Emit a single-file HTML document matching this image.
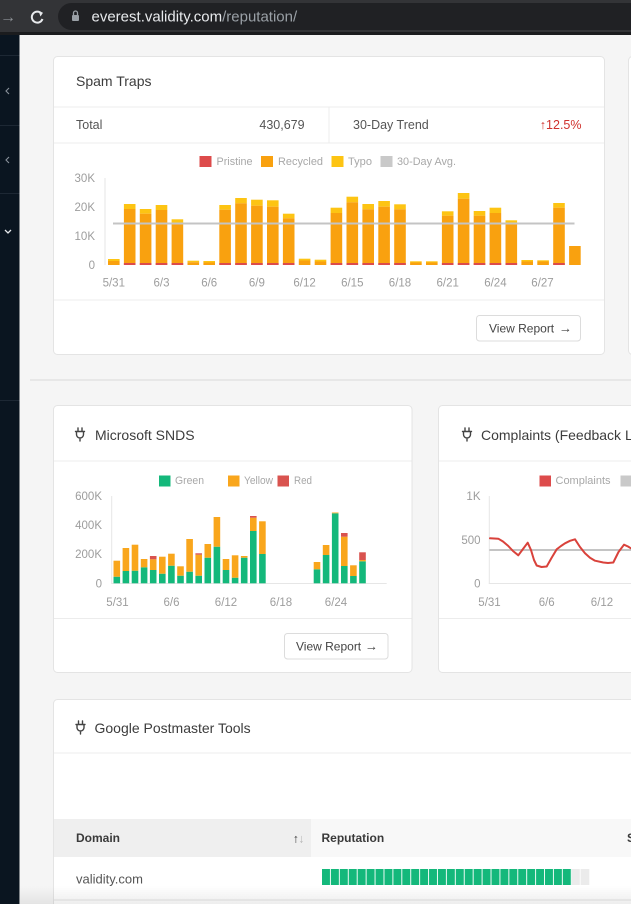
<!DOCTYPE html>
<html><head><meta charset="utf-8"><style>
html,body{margin:0;padding:0;background:#f5f5f5;}
svg{display:block;font-family:"Liberation Sans",Arial,sans-serif;}
</style></head><body>
<svg width="631" height="904" viewBox="0 0 631 904" xmlns="http://www.w3.org/2000/svg">
<defs>
<pattern id="seg" x="322" y="0" width="8.92" height="904" patternUnits="userSpaceOnUse">
<rect x="0" y="0" width="8.0" height="904" fill="#14b87b"/>
</pattern>
<linearGradient id="fade" x1="0" y1="0" x2="0" y2="1">
<stop offset="0" stop-color="#000" stop-opacity="0"/>
<stop offset="1" stop-color="#000" stop-opacity="0.07"/>
</linearGradient>
</defs>
<rect x="0" y="0" width="631" height="904" fill="#f5f5f5"/>
<rect x="0" y="0" width="631" height="33" fill="#333437"/>
<rect x="0" y="32" width="631" height="3" fill="#1b1c1e"/>
<rect x="58" y="3" width="600" height="27" rx="13.5" fill="#202124"/>
<text x="0" y="22" font-size="16" fill="#8e9296">→</text>
<path d="M41.5,13.5 A5.5,5.5 0 1 0 42.5,19" fill="none" stroke="#e8eaed" stroke-width="2"/>
<path d="M38.5,11 L43,12.8 L40.5,16.5 Z" fill="#e8eaed"/>
<rect x="72" y="15" width="7" height="6" rx="1" fill="#9aa0a6"/>
<path d="M73.5,15 V13 A2,2 0 0 1 77.5,13 V15" fill="none" stroke="#9aa0a6" stroke-width="1.3"/>
<text x="91.5" y="21.5" font-size="15" fill="#e8eaed">everest.validity.com<tspan fill="#9aa0a6">/reputation/</tspan></text>
<rect x="0" y="35" width="19.5" height="869" fill="#0a1520"/>
<rect x="0" y="55" width="19.5" height="1" fill="#1d2834"/>
<rect x="0" y="125" width="19.5" height="1" fill="#1d2834"/>
<rect x="0" y="193" width="19.5" height="1" fill="#1d2834"/>
<rect x="0" y="400" width="19.5" height="1" fill="#1d2834"/>
<path d="M9,88 L6,91 L9,94" fill="none" stroke="#8a929b" stroke-width="1.1"/>
<path d="M9,157 L6,160 L9,163" fill="none" stroke="#8a929b" stroke-width="1.1"/>
<path d="M5,230 L8,233 L11,230" fill="none" stroke="#e6e9ec" stroke-width="1.3"/>

<rect x="30" y="379" width="601" height="2" fill="#e7e7e7"/>

<rect x="628.5" y="56.5" width="40" height="298" rx="4" fill="#fff" stroke="#e4e4e4"/>

<!-- SPAM TRAPS CARD -->
<rect x="53.5" y="56.5" width="551" height="298" rx="4" fill="#fff" stroke="#e4e4e4"/>
<text x="76" y="81" font-size="14" fill="#3c3c3c" dominant-baseline="central">Spam Traps</text>
<rect x="54" y="106.5" width="550" height="1" fill="#ececec"/>
<rect x="54" y="142.5" width="550" height="1" fill="#ececec"/>
<rect x="328.5" y="107" width="1" height="36" fill="#ececec"/>
<text x="76" y="125" font-size="12.5" fill="#555" dominant-baseline="central">Total</text>
<text x="304.6" y="125" font-size="12.5" fill="#555" text-anchor="end" dominant-baseline="central">430,679</text>
<text x="353" y="125" font-size="12.5" fill="#555" dominant-baseline="central">30-Day Trend</text>
<text x="546" y="125" font-size="12.5" fill="#d0312d" text-anchor="end" dominant-baseline="central" font-weight="bold">↑</text>
<text x="581.5" y="125" font-size="12.5" fill="#d0312d" text-anchor="end" dominant-baseline="central">12.5%</text>
<g font-size="11" fill="#a8a8a8">
<rect x="199.5" y="156" width="12" height="11" fill="#dd4b4b"/>
<text x="216.5" y="162" dominant-baseline="central" textLength="36" lengthAdjust="spacingAndGlyphs">Pristine</text>
<rect x="261" y="156" width="12" height="11" fill="#f9a10f"/>
<text x="278" y="162" dominant-baseline="central" textLength="45" lengthAdjust="spacingAndGlyphs">Recycled</text>
<rect x="331.5" y="156" width="12" height="11" fill="#fdc413"/>
<text x="348" y="162" dominant-baseline="central" textLength="24" lengthAdjust="spacingAndGlyphs">Typo</text>
<rect x="380.5" y="156" width="12" height="11" fill="#c9c9c9"/>
<text x="397" y="162" dominant-baseline="central" textLength="59" lengthAdjust="spacingAndGlyphs">30-Day Avg.</text>
</g>
<rect x="104.5" y="178" width="1" height="87" fill="#e6e6e6"/>
<g font-size="11.5" fill="#9d9d9d" text-anchor="end">
<text x="95" y="182">30K</text>
<text x="95" y="211">20K</text>
<text x="95" y="240">10K</text>
<text x="95" y="269">0</text>
</g>
<g font-size="11.5" fill="#9d9d9d" text-anchor="middle">
<text x="113.8" y="286.5">5/31</text>
<text x="161.5" y="286.5">6/3</text>
<text x="209.2" y="286.5">6/6</text>
<text x="256.9" y="286.5">6/9</text>
<text x="304.6" y="286.5">6/12</text>
<text x="352.3" y="286.5">6/15</text>
<text x="400" y="286.5">6/18</text>
<text x="447.7" y="286.5">6/21</text>
<text x="495.4" y="286.5">6/24</text>
<text x="542.5" y="286.5">6/27</text>
</g>
<g>
<g fill="#fdc413">
<rect x="123.9" y="204" width="11.6" height="5"/>
<rect x="139.8" y="209" width="11.6" height="4.7"/>
<rect x="155.7" y="205" width="11.6" height="5"/>
<rect x="171.6" y="219.3" width="11.6" height="4"/>
<rect x="219.3" y="205" width="11.6" height="4.7"/>
<rect x="235.2" y="198" width="11.6" height="5.3"/>
<rect x="251.1" y="199.7" width="11.6" height="6"/>
<rect x="267.0" y="200.3" width="11.6" height="6.4"/>
<rect x="282.9" y="213.7" width="11.6" height="4.6"/>
<rect x="330.6" y="207.7" width="11.6" height="5.3"/>
<rect x="346.5" y="196.7" width="11.6" height="5.6"/>
<rect x="362.4" y="204" width="11.6" height="5.3"/>
<rect x="378.3" y="201" width="11.6" height="5.7"/>
<rect x="394.2" y="204.3" width="11.6" height="5"/>
<rect x="441.9" y="211.3" width="11.6" height="4.4"/>
<rect x="457.8" y="193" width="11.6" height="5.7"/>
<rect x="473.7" y="211" width="11.6" height="4.7"/>
<rect x="489.6" y="207.7" width="11.6" height="5.3"/>
<rect x="505.5" y="220.3" width="11.6" height="3.7"/>
<rect x="553.2" y="203" width="11.6" height="4.7"/>
<rect x="108.0" y="259" width="11.6" height="2"/>
<rect x="187.5" y="260.7" width="11.6" height="1.5"/>
<rect x="203.4" y="261" width="11.6" height="1.5"/>
<rect x="298.8" y="258.7" width="11.6" height="1.8"/>
<rect x="314.7" y="259.7" width="11.6" height="1.8"/>
<rect x="410.1" y="261.3" width="11.6" height="1.2"/>
<rect x="426.0" y="261.3" width="11.6" height="1.2"/>
<rect x="521.4" y="260" width="11.6" height="1.5"/>
<rect x="537.3" y="260.3" width="11.6" height="1.2"/>
</g>
<g fill="#f9a10f">
<rect x="123.9" y="209" width="11.6" height="56"/>
<rect x="139.8" y="213.7" width="11.6" height="51.3"/>
<rect x="155.7" y="210" width="11.6" height="55"/>
<rect x="171.6" y="223.3" width="11.6" height="41.7"/>
<rect x="219.3" y="209.7" width="11.6" height="55.3"/>
<rect x="235.2" y="203.3" width="11.6" height="61.7"/>
<rect x="251.1" y="205.7" width="11.6" height="59.3"/>
<rect x="267.0" y="206.7" width="11.6" height="58.3"/>
<rect x="282.9" y="218.3" width="11.6" height="46.7"/>
<rect x="330.6" y="213" width="11.6" height="52"/>
<rect x="346.5" y="202.3" width="11.6" height="62.7"/>
<rect x="362.4" y="209.3" width="11.6" height="55.7"/>
<rect x="378.3" y="206.7" width="11.6" height="58.3"/>
<rect x="394.2" y="209.3" width="11.6" height="55.7"/>
<rect x="441.9" y="215.7" width="11.6" height="49.3"/>
<rect x="457.8" y="198.7" width="11.6" height="66.3"/>
<rect x="473.7" y="215.7" width="11.6" height="49.3"/>
<rect x="489.6" y="213" width="11.6" height="52"/>
<rect x="505.5" y="224" width="11.6" height="41"/>
<rect x="553.2" y="207.7" width="11.6" height="57.3"/>
<rect x="569.1" y="246" width="11.6" height="19"/>
<rect x="108.0" y="261" width="11.6" height="4"/>
<rect x="187.5" y="262.2" width="11.6" height="2.8"/>
<rect x="203.4" y="262.5" width="11.6" height="2.5"/>
<rect x="298.8" y="260.5" width="11.6" height="4.5"/>
<rect x="314.7" y="261.5" width="11.6" height="3.5"/>
<rect x="410.1" y="262.5" width="11.6" height="2.5"/>
<rect x="426.0" y="262.5" width="11.6" height="2.5"/>
<rect x="521.4" y="261.5" width="11.6" height="3.5"/>
<rect x="537.3" y="261.5" width="11.6" height="3.5"/>
</g>
<g fill="#dd4b4b">
<rect x="123.9" y="263" width="11.6" height="2"/>
<rect x="139.8" y="263" width="11.6" height="2"/>
<rect x="155.7" y="263" width="11.6" height="2"/>
<rect x="171.6" y="263" width="11.6" height="2"/>
<rect x="219.3" y="263" width="11.6" height="2"/>
<rect x="235.2" y="263" width="11.6" height="2"/>
<rect x="251.1" y="263" width="11.6" height="2"/>
<rect x="267.0" y="263" width="11.6" height="2"/>
<rect x="282.9" y="263" width="11.6" height="2"/>
<rect x="330.6" y="263" width="11.6" height="2"/>
<rect x="346.5" y="263" width="11.6" height="2"/>
<rect x="362.4" y="263" width="11.6" height="2"/>
<rect x="378.3" y="263" width="11.6" height="2"/>
<rect x="394.2" y="263" width="11.6" height="2"/>
<rect x="441.9" y="263" width="11.6" height="2"/>
<rect x="457.8" y="263" width="11.6" height="2"/>
<rect x="473.7" y="263" width="11.6" height="2"/>
<rect x="489.6" y="263" width="11.6" height="2"/>
<rect x="505.5" y="263" width="11.6" height="2"/>
<rect x="553.2" y="263" width="11.6" height="2"/>
</g>
</g>
<rect x="113" y="222.5" width="461.5" height="2" fill="#c4c4c4"/>
<rect x="54" y="299.5" width="550" height="1" fill="#ececec"/>
<rect x="476.5" y="315.5" width="104" height="25.5" rx="3" fill="#fff" stroke="#dcdcdc"/>
<text x="489" y="328.5" font-size="12" fill="#444" dominant-baseline="central">View Report</text>
<text x="559" y="328" font-size="13" fill="#444" dominant-baseline="central">→</text>

<!-- SNDS CARD -->
<rect x="53.5" y="405.5" width="358.5" height="267" rx="4" fill="#fff" stroke="#e4e4e4"/>
<g fill="none" stroke="#444" stroke-width="1.4" stroke-linecap="round">
<path d="M78,428 V431 M82,428 V431 M75.5,431.5 H84.5 M76.5,431.5 V434.5 A3.5,3.5 0 0 0 83.5,434.5 V431.5 M80,438 V441"/>
</g>
<text x="95" y="435" font-size="14" fill="#3c3c3c" dominant-baseline="central">Microsoft SNDS</text>
<rect x="54" y="460.5" width="357.5" height="1" fill="#ececec"/>
<g font-size="11" fill="#a8a8a8">
<rect x="159" y="475.5" width="11.5" height="11" fill="#14b87b"/>
<text x="175" y="481" dominant-baseline="central" textLength="29" lengthAdjust="spacingAndGlyphs">Green</text>
<rect x="228" y="475.5" width="11.5" height="11" fill="#f9a61c"/>
<text x="244" y="481" dominant-baseline="central" textLength="29" lengthAdjust="spacingAndGlyphs">Yellow</text>
<rect x="277.5" y="475.5" width="11.5" height="11" fill="#d9534f"/>
<text x="294" y="481" dominant-baseline="central" textLength="18" lengthAdjust="spacingAndGlyphs">Red</text>
</g>
<rect x="111.2" y="496" width="1" height="87.5" fill="#e6e6e6"/>
<rect x="111.2" y="583" width="275.5" height="1" fill="#e6e6e6"/>
<g font-size="11.5" fill="#9d9d9d" text-anchor="end">
<text x="102" y="500">600K</text>
<text x="102" y="529">400K</text>
<text x="102" y="558">200K</text>
<text x="102" y="587.5">0</text>
</g>
<g font-size="11.5" fill="#9d9d9d" text-anchor="middle">
<text x="117.5" y="606">5/31</text>
<text x="171.5" y="606">6/6</text>
<text x="226" y="606">6/12</text>
<text x="281" y="606">6/18</text>
<text x="336" y="606">6/24</text>
</g>
<g fill="#14b87b">
<rect x="113.5" y="576.7" width="6.6" height="6.6"/>
<rect x="122.6" y="571" width="6.6" height="12.3"/>
<rect x="131.7" y="570.7" width="6.6" height="12.6"/>
<rect x="140.8" y="567.3" width="6.6" height="16"/>
<rect x="149.9" y="570" width="6.6" height="13.3"/>
<rect x="159.0" y="573.7" width="6.6" height="9.6"/>
<rect x="168.1" y="565.7" width="6.6" height="17.6"/>
<rect x="177.2" y="575.7" width="6.6" height="7.6"/>
<rect x="186.3" y="571.7" width="6.6" height="11.6"/>
<rect x="195.4" y="575.7" width="6.6" height="7.6"/>
<rect x="204.5" y="557.7" width="6.6" height="25.6"/>
<rect x="213.6" y="546.7" width="6.6" height="36.6"/>
<rect x="222.7" y="570" width="6.6" height="13.3"/>
<rect x="231.8" y="577.7" width="6.6" height="5.6"/>
<rect x="240.9" y="557.7" width="6.6" height="25.6"/>
<rect x="250.0" y="531" width="6.6" height="52.3"/>
<rect x="259.1" y="554" width="6.6" height="29.3"/>
<rect x="313.7" y="569.3" width="6.6" height="14"/>
<rect x="322.8" y="555" width="6.6" height="28.3"/>
<rect x="331.9" y="513.3" width="6.6" height="70"/>
<rect x="341.0" y="566" width="6.6" height="17.3"/>
<rect x="350.1" y="576" width="6.6" height="7.3"/>
<rect x="359.2" y="561.3" width="6.6" height="22"/>
</g>
<g fill="#f9a61c">
<rect x="113.5" y="560.7" width="6.6" height="16"/>
<rect x="122.6" y="548" width="6.6" height="23"/>
<rect x="131.7" y="544.7" width="6.6" height="26"/>
<rect x="140.8" y="559" width="6.6" height="8.3"/>
<rect x="149.9" y="559.3" width="6.6" height="10.7"/>
<rect x="159.0" y="556.7" width="6.6" height="17"/>
<rect x="168.1" y="553.7" width="6.6" height="12"/>
<rect x="177.2" y="566.3" width="6.6" height="9.4"/>
<rect x="186.3" y="539" width="6.6" height="32.7"/>
<rect x="195.4" y="554.7" width="6.6" height="21"/>
<rect x="204.5" y="544" width="6.6" height="13.7"/>
<rect x="213.6" y="517" width="6.6" height="29.7"/>
<rect x="222.7" y="559" width="6.6" height="11"/>
<rect x="231.8" y="555.3" width="6.6" height="22.4"/>
<rect x="240.9" y="556" width="6.6" height="1.7"/>
<rect x="250.0" y="517.7" width="6.6" height="13.3"/>
<rect x="259.1" y="521.3" width="6.6" height="32.7"/>
<rect x="313.7" y="562" width="6.6" height="7.3"/>
<rect x="322.8" y="545" width="6.6" height="10"/>
<rect x="331.9" y="512.5" width="6.6" height="0.8"/>
<rect x="341.0" y="536.7" width="6.6" height="29.3"/>
<rect x="350.1" y="565.3" width="6.6" height="10.7"/>
<rect x="359.2" y="560" width="6.6" height="1.3"/>
</g>
<g fill="#d9534f">
<rect x="149.9" y="556" width="6.6" height="3.3"/>
<rect x="195.4" y="553.3" width="6.6" height="1.4"/>
<rect x="250.0" y="516" width="6.6" height="1.7"/>
<rect x="341.0" y="533" width="6.6" height="3.7"/>
<rect x="359.2" y="552.3" width="6.6" height="7.7"/>
</g>
<rect x="54" y="618" width="357.5" height="1" fill="#ececec"/>
<rect x="284.5" y="633.5" width="103.5" height="25.5" rx="3" fill="#fff" stroke="#dcdcdc"/>
<text x="296" y="646.5" font-size="12" fill="#444" dominant-baseline="central">View Report</text>
<text x="365" y="646" font-size="13" fill="#444" dominant-baseline="central">→</text>

<!-- COMPLAINTS CARD -->
<rect x="438.5" y="405.5" width="400" height="267" rx="4" fill="#fff" stroke="#e4e4e4"/>
<g fill="none" stroke="#444" stroke-width="1.4" stroke-linecap="round">
<path d="M465,428 V431 M469,428 V431 M462.5,431.5 H471.5 M463.5,431.5 V434.5 A3.5,3.5 0 0 0 470.5,434.5 V431.5 M467,438 V441"/>
</g>
<text x="481" y="435" font-size="14" fill="#3c3c3c" dominant-baseline="central">Complaints (Feedback Loop)</text>
<rect x="439" y="460.5" width="192" height="1" fill="#ececec"/>
<g font-size="11" fill="#a8a8a8">
<rect x="539.5" y="475.5" width="11.5" height="11" fill="#dd4b4b"/>
<text x="555.5" y="481" dominant-baseline="central" textLength="55" lengthAdjust="spacingAndGlyphs">Complaints</text>
<rect x="620.5" y="475.5" width="11.5" height="11" fill="#c9c9c9"/>
</g>
<rect x="488.8" y="496" width="1" height="87.5" fill="#e6e6e6"/>
<rect x="488.8" y="583" width="143" height="1" fill="#e6e6e6"/>
<g font-size="11.5" fill="#9d9d9d" text-anchor="end">
<text x="480.5" y="500">1K</text>
<text x="480.5" y="544">500</text>
<text x="480.5" y="587.5">0</text>
</g>
<g font-size="11.5" fill="#9d9d9d" text-anchor="middle">
<text x="489.5" y="606">5/31</text>
<text x="546.7" y="606">6/6</text>
<text x="602" y="606">6/12</text>
</g>
<rect x="489.3" y="549" width="142" height="2" fill="#c4c4c4"/>
<polyline fill="none" stroke="#d9423b" stroke-width="2" stroke-linejoin="round" stroke-linecap="round"
points="490,538.3 498.3,538.7 503,541.5 508.3,546 513,551 518.3,555.3 523,549 527.7,542.7 531,550 534,560 536.7,565.5 541.5,567 546.7,566.5 551.5,558 556.7,549.3 561,546 565,543.3 570,540.8 575,539.3 580,547 585,553.3 590,557.8 595,560.7 603.3,562.5 608,563 613.3,562.5 618.5,552 624,544.7 628,546.5 632,549"/>
<rect x="439" y="618" width="192" height="1" fill="#ececec"/>

<!-- GOOGLE POSTMASTER CARD -->
<rect x="53.5" y="699.5" width="600" height="230" rx="4" fill="#fff" stroke="#e4e4e4"/>
<g fill="none" stroke="#444" stroke-width="1.4" stroke-linecap="round">
<path d="M78.5,721 V724 M82.5,721 V724 M76,724.5 H85 M77,724.5 V727.5 A3.5,3.5 0 0 0 84,727.5 V724.5 M80.5,731 V734"/>
</g>
<text x="94.5" y="728" font-size="14" fill="#3c3c3c" dominant-baseline="central">Google Postmaster Tools</text>
<rect x="54" y="752.5" width="577" height="1" fill="#ececec"/>
<rect x="54" y="819" width="257" height="38" fill="#efefef"/>
<rect x="311" y="819" width="320" height="38" fill="#f8f8f8"/>
<text x="76" y="838" font-size="12" font-weight="bold" fill="#3a3a3a" dominant-baseline="central">Domain</text>
<text x="293" y="838.5" font-size="12" font-weight="bold" fill="#333" dominant-baseline="central">↑</text>
<text x="298.5" y="838.5" font-size="12" fill="#b5b5b5" dominant-baseline="central">↓</text>
<text x="321.5" y="838" font-size="12" font-weight="bold" fill="#3a3a3a" dominant-baseline="central">Reputation</text>
<text x="627" y="838" font-size="12" font-weight="bold" fill="#3a3a3a" dominant-baseline="central">S</text>
<text x="76" y="879" font-size="13" fill="#555" dominant-baseline="central">validity.com</text>
<rect x="322" y="869" width="249.7" height="16" fill="url(#seg)"/>
<rect x="571.7" y="869" width="8.1" height="16" fill="#ebebeb"/>
<rect x="580.6" y="869" width="8.7" height="16" fill="#ebebeb"/>
<rect x="54" y="899.5" width="577" height="1" fill="#e4e4e4"/>
<rect x="20" y="886" width="611" height="18" fill="url(#fade)"/>
</svg>
</body></html>
